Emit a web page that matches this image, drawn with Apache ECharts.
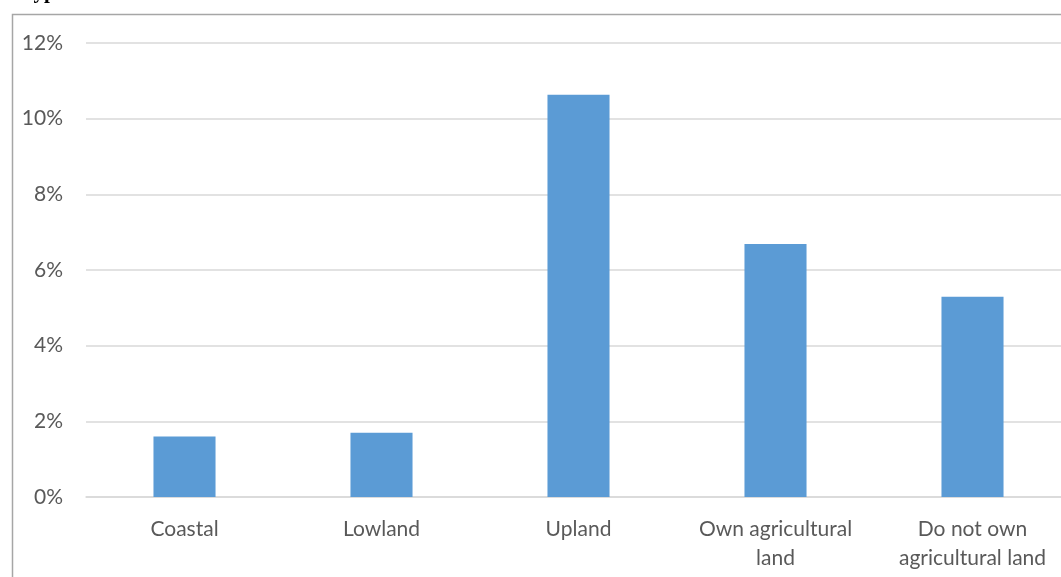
<!DOCTYPE html>
<html><head><meta charset="utf-8">
<script src="https://cdn.jsdelivr.net/npm/echarts@6/dist/echarts.min.js"></script>
<style>html,body{margin:0;padding:0;background:#fff}#c{width:1061px;height:577px}</style>
</head><body><div id="c"></div>
<script>
var categories = ['Coastal', 'Lowland', 'Upland', 'Own agricultural\nland', 'Do not own\nagricultural land'];
var values = [1.6, 1.7, 10.63, 6.69, 5.29];
var titleText = 'Type';

var chart = echarts.init(document.getElementById('c'));
chart.setOption({
  animation: false,
  graphic: [
    {type: 'rect', shape: {x: 12.5, y: 14.5, width: 1200, height: 700}, style: {fill: 'none', stroke: '#a6a6a6', lineWidth: 1.5}, z: 0},
    {type: 'text', left: 21, top: -18, style: {text: titleText, font: 'bold 21px "Liberation Serif"', fill: '#000'}, z: 10}
  ],
  grid: {left: 86, width: 985, top: 43, bottom: 80, containLabel: false, outerBoundsMode: 'none'},
  xAxis: {
    type: 'category', data: categories,
    axisLine: {show: true, lineStyle: {color: '#d9d9d9', width: 1.5}},
    axisTick: {show: false},
    axisLabel: {color: '#595959', fontFamily: 'Lato', fontSize: 21, margin: 18, lineHeight: 29, interval: 0}
  },
  yAxis: {
    type: 'value', min: 0, max: 12, interval: 2,
    axisLabel: {formatter: '{value}%', color: '#595959', fontFamily: 'Lato', fontSize: 21, margin: 23},
    splitLine: {lineStyle: {color: '#d9d9d9', width: 1.5}},
    axisLine: {show: false}, axisTick: {show: false}
  },
  series: [{type: 'bar', data: values, barWidth: '31.5%', itemStyle: {color: '#5b9bd5'}}]
});
</script></body></html>
